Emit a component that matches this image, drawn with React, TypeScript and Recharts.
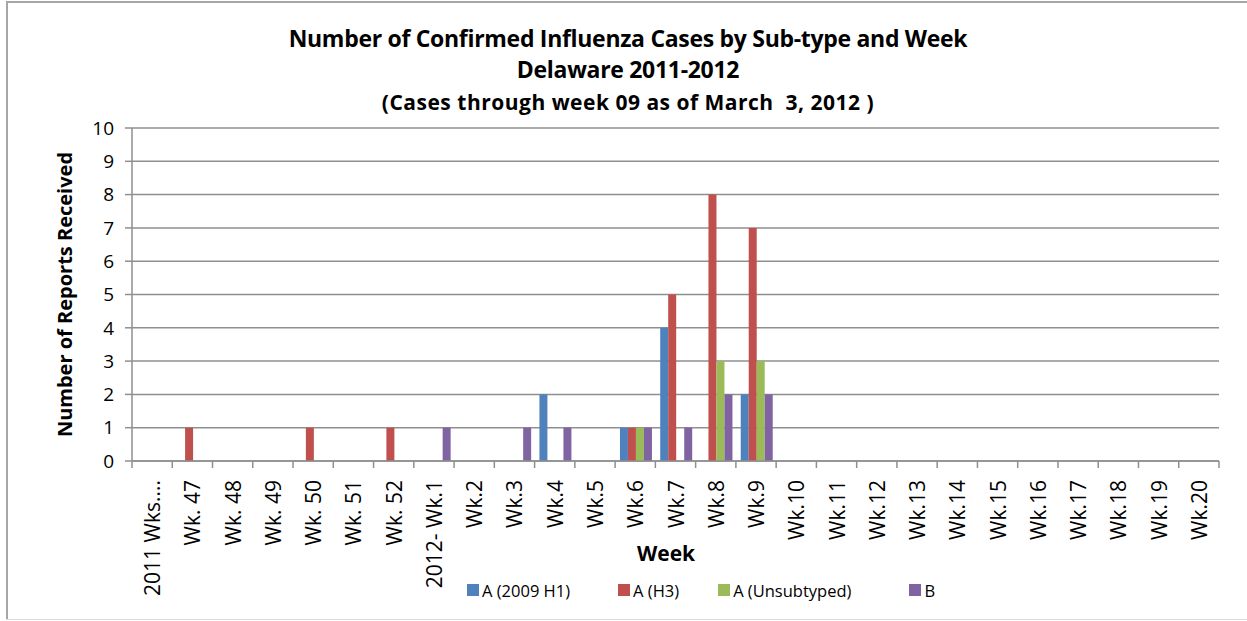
import { BarChart, Bar, XAxis, YAxis, CartesianGrid, Legend } from "recharts";

const weeks = [
  "2011 Wks....", "Wk. 47", "Wk. 48", "Wk. 49", "Wk. 50", "Wk. 51", "Wk. 52",
  "2012- Wk.1", "Wk.2", "Wk.3", "Wk.4", "Wk.5", "Wk.6", "Wk.7", "Wk.8", "Wk.9",
  "Wk.10", "Wk.11", "Wk.12", "Wk.13", "Wk.14", "Wk.15", "Wk.16", "Wk.17",
  "Wk.18", "Wk.19", "Wk.20",
];

const h1 = [0, 0, 0, 0, 0, 0, 0, 0, 0, 0, 2, 0, 1, 4, 0, 2, 0, 0, 0, 0, 0, 0, 0, 0, 0, 0, 0];
const h3 = [0, 1, 0, 0, 1, 0, 1, 0, 0, 0, 0, 0, 1, 5, 8, 7, 0, 0, 0, 0, 0, 0, 0, 0, 0, 0, 0];
const unsubtyped = [0, 0, 0, 0, 0, 0, 0, 0, 0, 0, 0, 0, 1, 0, 3, 3, 0, 0, 0, 0, 0, 0, 0, 0, 0, 0, 0];
const typeB = [0, 0, 0, 0, 0, 0, 0, 1, 0, 1, 1, 0, 1, 1, 2, 2, 0, 0, 0, 0, 0, 0, 0, 0, 0, 0, 0];

const yTicks = [0, 1, 2, 3, 4, 5, 6, 7, 8, 9, 10];

const series = [
  { key: "h1", name: "A (2009 H1)", color: "#4F81BD" },
  { key: "h3", name: "A (H3)", color: "#C0504D" },
  { key: "unsub", name: "A (Unsubtyped)", color: "#9BBB59" },
  { key: "b", name: "B", color: "#8064A2" },
];

const data = weeks.map((week, i) => ({
  week,
  h1: h1[i],
  h3: h3[i],
  unsub: unsubtyped[i],
  b: typeB[i],
}));

const W = 1247;
const H = 621;
const margin = { top: 128, right: 28, left: 92, bottom: 21 };
const yAxisWidth = 40;
const band = (W - margin.left - yAxisWidth - margin.right) / weeks.length;
const font = "'Open Sans', sans-serif";
const axisGray = "#8f8f8f";

function WeekTick(props: any) {
  const { x, y, payload, index } = props;
  return (
    <g>
      <line x1={x - band / 2} x2={x - band / 2} y1={y - 7} y2={y} stroke={axisGray} strokeWidth={1.5} />
      {index === weeks.length - 1 && (
        <line x1={x + band / 2} x2={x + band / 2} y1={y - 7} y2={y} stroke={axisGray} strokeWidth={1.5} />
      )}
      <text
        transform={`translate(${x + 8},${y + 12}) rotate(-90)`}
        textAnchor="end"
        fontSize={21}
        fontFamily={font}
        fill="#000"
      >
        {payload.value}
      </text>
    </g>
  );
}

function LegendRow() {
  return (
    <div
      style={{
        display: "flex",
        justifyContent: "flex-start",
        paddingLeft: 375,
        height: 20,
        alignItems: "center",
        fontFamily: font,
        fontSize: 16.5,
        color: "#000",
      }}
    >
      {series.map((s, i) => (
        <div key={s.key} style={{ display: "flex", alignItems: "center", marginRight: [48, 39, 58, 0][i] }}>
          <span style={{ width: 12, height: 12, background: s.color, marginRight: 3, display: "inline-block" }} />
          <span>{s.name}</span>
        </div>
      ))}
    </div>
  );
}

export default function App() {
  return (
    <div style={{ position: "absolute", left: 0, top: 0, width: W, height: H, background: "#fff" }}>
      <div style={{ position: "absolute", left: 6, top: 1, width: W - 6, height: 2, background: "#a6a6a6" }} />
      <div style={{ position: "absolute", left: 6, top: 1, width: 2, height: 619, background: "#a6a6a6" }} />
      <div style={{ position: "absolute", left: 6, top: 619, width: W - 6, height: 1, background: "#dcdcdc" }} />
      <div
        style={{
          position: "absolute",
          left: 0,
          top: 22,
          width: 1256,
          textAlign: "center",
          fontFamily: font,
          fontWeight: "bold",
          color: "#000",
        }}
      >
        <div style={{ fontSize: 23, lineHeight: "32px", letterSpacing: -0.3 }}>
          Number of Confirmed Influenza Cases by Sub-type and Week
        </div>
        <div style={{ fontSize: 23, lineHeight: "31px", letterSpacing: -0.3 }}>Delaware 2011-2012</div>
        <div style={{ fontSize: 21, lineHeight: "34px", letterSpacing: 0.5 }}>
          (Cases through week 09 as of March&nbsp; 3, 2012 )
        </div>
      </div>
      <div style={{ position: "absolute", left: 0, top: 0 }}>
        <BarChart width={W} height={H} data={data} margin={margin} barCategoryGap="12%" barGap={0}>
          <CartesianGrid vertical={false} stroke={axisGray} strokeWidth={1.5} />
          <XAxis
            dataKey="week"
            interval={0}
            height={119}
            tickLine={false}
            tickSize={7}
            tickMargin={0}
            axisLine={{ stroke: axisGray, strokeWidth: 1.5 }}
            tick={<WeekTick />}
            label={{
              content: (p: any) => (
                <text
                  x={666}
                  y={p.viewBox.y + 100}
                  textAnchor="middle"
                  fontSize={21}
                  fontWeight="bold"
                  fontFamily={font}
                  fill="#000"
                >
                  Week
                </text>
              ),
            }}
          />
          <YAxis
            width={yAxisWidth}
            domain={[0, 10]}
            ticks={yTicks}
            interval={0}
            tickSize={7}
            tickMargin={11}
            axisLine={{ stroke: axisGray, strokeWidth: 1.5 }}
            tickLine={{ stroke: axisGray, strokeWidth: 1.5 }}
            tick={{ fontSize: 19, fontFamily: font, fill: "#000" }}
            label={{
              content: (p: any) => (
                <text
                  transform={`translate(${p.viewBox.x - 20},${p.viewBox.y + p.viewBox.height / 2}) rotate(-90)`}
                  textAnchor="middle"
                  fontSize={20}
                  fontWeight="bold"
                  fontFamily={font}
                  fill="#000"
                >
                  Number of Reports Received
                </text>
              ),
            }}
          />
          <Legend verticalAlign="bottom" content={<LegendRow />} />
          {series.map((s) => (
            <Bar key={s.key} dataKey={s.key} name={s.name} fill={s.color} isAnimationActive={false} />
          ))}
        </BarChart>
      </div>
    </div>
  );
}
